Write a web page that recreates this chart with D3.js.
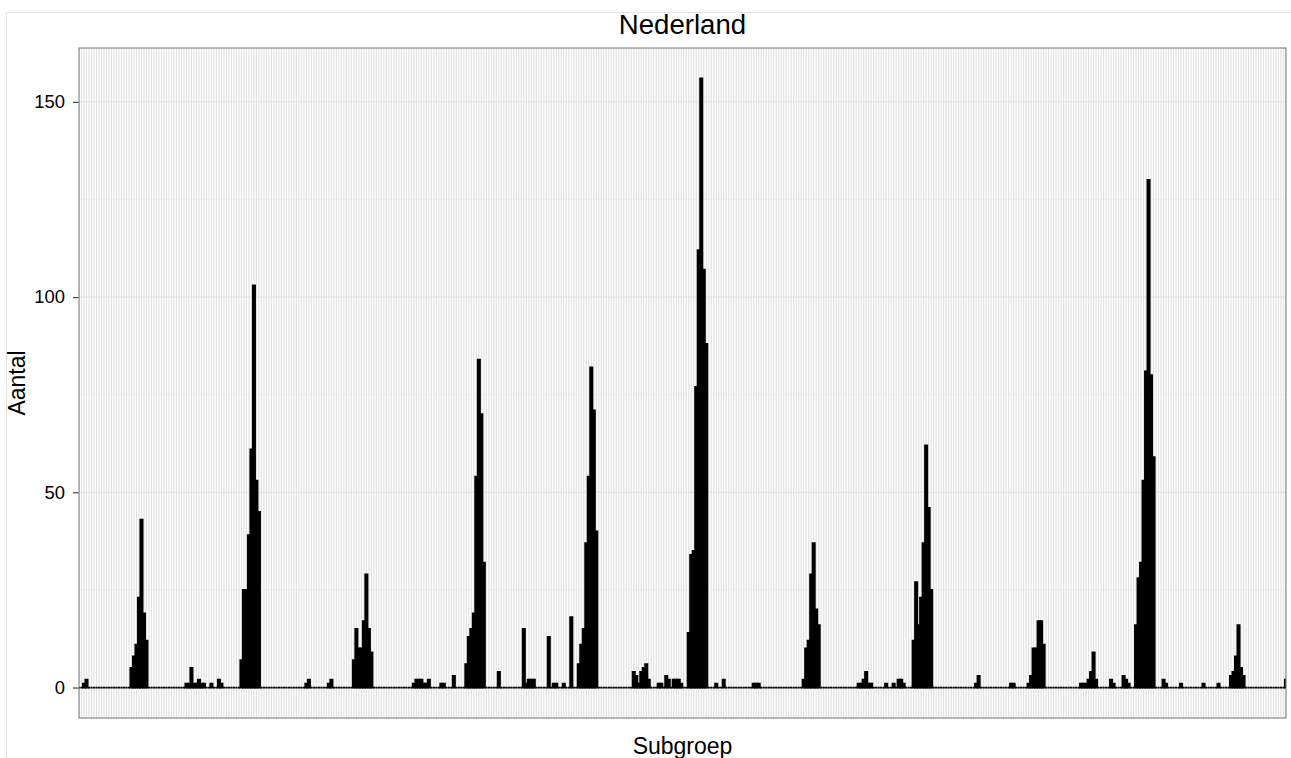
<!DOCTYPE html>
<html>
<head>
<meta charset="utf-8">
<script src="https://cdn.jsdelivr.net/npm/d3@7"></script>
<style>
  html, body { margin: 0; padding: 0; background: #ffffff; }
  svg { display: block; font-family: "Liberation Sans", Arial, Helvetica, sans-serif; }
</style>
</head>
<body>
<svg id="chart" width="1291" height="758"></svg>
<script>
// ---- data ----
const title = "Nederland";
const xLabel = "Subgroep";
const yLabel = "Aantal";
const yTicks = [0, 50, 100, 150];
const yMinorTicks = [25, 75, 125];
// counts per subgroup, in order (484 subgroups)
const aantal = [
  0,0,1,2,0,0,0,0,0,0,0,0,0,0,0,0,0,0,0,0,
  0,5,8,11,23,43,19,12,0,0,0,0,0,0,0,0,0,0,0,0,
  0,0,0,1,1,5,1,1,2,1,1,0,0,1,0,0,2,1,0,0,
  0,0,0,0,0,7,25,25,39,61,103,53,45,0,0,0,0,0,0,0,
  0,0,0,0,0,0,0,0,0,0,0,1,2,0,0,0,0,0,0,0,
  1,2,0,0,0,0,0,0,0,0,7,15,10,10,17,29,15,9,0,0,
  0,0,0,0,0,0,0,0,0,0,0,0,0,0,1,2,2,2,1,1,
  2,0,0,0,0,1,1,0,0,0,3,0,0,0,0,6,13,15,19,54,
  84,70,32,0,0,0,0,0,4,0,0,0,0,0,0,0,0,0,15,1,
  2,2,2,0,0,0,0,0,13,0,1,1,0,0,1,0,0,18,0,0,
  6,11,15,37,54,82,71,40,0,0,0,0,0,0,0,0,0,0,0,0,
  0,0,4,3,1,4,5,6,2,0,0,0,1,1,0,3,2,0,2,2,
  2,1,0,0,14,34,35,77,112,156,107,88,0,0,0,1,0,0,2,0,
  0,0,0,0,0,0,0,0,0,0,1,1,1,0,0,0,0,0,0,0,
  0,0,0,0,0,0,0,0,0,0,2,10,12,29,37,20,16,0,0,0,
  0,0,0,0,0,0,0,0,0,0,0,0,1,1,2,4,1,1,0,0,
  0,0,0,1,0,0,1,0,2,2,1,0,0,0,12,27,16,23,37,62,
  46,25,0,0,0,0,0,0,0,0,0,0,0,0,0,0,0,0,0,1,
  3,0,0,0,0,0,0,0,0,0,0,0,0,1,1,0,0,0,0,0,
  1,3,10,10,17,17,11,0,0,0,0,0,0,0,0,0,0,0,0,0,
  0,1,1,1,2,4,9,2,0,0,0,0,0,2,1,0,0,0,3,2,
  1,0,0,16,28,32,53,81,130,80,59,0,0,0,2,1,0,0,0,0,
  0,1,0,0,0,0,0,0,0,0,1,0,0,0,0,0,1,0,0,0,
  0,3,4,8,16,5,3,0,0,0,0,0,0,0,0,0,0,0,0,0,
  0,0,0,2
];
const subgroepen = aantal.map((d, i) => "S" + (i + 1));

// ---- layout ----
const panel = { left: 79, right: 1286, top: 48, bottom: 718 };

const svg = d3.select("#chart");

// outer plot border (light)
svg.append("rect")
  .attr("x", 6.5).attr("y", 12.5)
  .attr("width", 1300).attr("height", 800)
  .attr("fill", "#ffffff").attr("stroke", "#e3e3e3").attr("stroke-width", 1);

const x = d3.scalePoint()
  .domain(subgroepen)
  .range([panel.left, panel.right])
  .padding(0);
const step = x.step();
const barW = step * 0.9;

const y = d3.scaleLinear()
  .domain([-7.8, 163.8])
  .range([panel.bottom, panel.top]);

// panel background
svg.append("rect")
  .attr("x", panel.left).attr("y", panel.top)
  .attr("width", panel.right - panel.left).attr("height", panel.bottom - panel.top)
  .attr("fill", "#ffffff");

const defs = svg.append("defs");
defs.append("clipPath").attr("id", "clip")
  .append("rect")
  .attr("x", panel.left).attr("y", panel.top)
  .attr("width", panel.right - panel.left).attr("height", panel.bottom - panel.top);

const grid = svg.append("g").attr("clip-path", "url(#clip)");

// minor horizontal grid
grid.selectAll("line.ymin").data(yMinorTicks).join("line")
  .attr("class", "ymin")
  .attr("x1", panel.left).attr("x2", panel.right)
  .attr("y1", d => y(d)).attr("y2", d => y(d))
  .attr("stroke", "#f5f5f5").attr("stroke-width", 1.2);

// major horizontal grid
grid.selectAll("line.ymaj").data(yTicks).join("line")
  .attr("class", "ymaj")
  .attr("x1", panel.left).attr("x2", panel.right)
  .attr("y1", d => y(d)).attr("y2", d => y(d))
  .attr("stroke", "#e3e3e3").attr("stroke-width", 1.3);

// major vertical grid: one per subgroup
grid.selectAll("line.xmaj").data(subgroepen).join("line")
  .attr("class", "xmaj")
  .attr("x1", d => x(d)).attr("x2", d => x(d))
  .attr("y1", panel.top).attr("y2", panel.bottom)
  .attr("stroke", "#e3e3e3").attr("stroke-width", 1.25);

// bars (zero bars still draw their outline along the baseline)
const bars = svg.append("g").attr("clip-path", "url(#clip)");
bars.selectAll("path.bar").data(aantal).join("path")
  .attr("class", "bar")
  .attr("d", (d, i) => {
    const cx = x(subgroepen[i]);
    const x0 = cx - barW / 2, x1 = cx + barW / 2;
    const y0 = y(0), y1 = y(d);
    return `M${x0},${y0}V${y1}H${x1}V${y0}Z`;
  })
  .attr("fill", "#000000")
  .attr("stroke", "#000000")
  .attr("stroke-width", 1.8)
  .attr("stroke-linejoin", "miter");

// panel border
svg.append("rect")
  .attr("x", panel.left).attr("y", panel.top)
  .attr("width", panel.right - panel.left).attr("height", panel.bottom - panel.top)
  .attr("fill", "none").attr("stroke", "#7f7f7f").attr("stroke-width", 1.1);

// y axis
const yAxis = d3.axisLeft(y).tickValues(yTicks).tickSize(5.5).tickPadding(8).tickFormat(d3.format("d"));
const gy = svg.append("g").attr("transform", `translate(${panel.left - 0.5},0)`).call(yAxis);
gy.select(".domain").remove();
gy.selectAll(".tick line").attr("stroke", "#333333").attr("stroke-width", 1.1);
gy.selectAll(".tick text")
  .attr("fill", "#000000")
  .style("font-size", "18.4px")
  .style("font-family", "'Liberation Sans', Arial, sans-serif");

// titles
svg.append("text")
  .attr("x", (panel.left + panel.right) / 2).attr("y", 34)
  .attr("text-anchor", "middle")
  .style("font-size", "27.6px")
  .attr("fill", "#000000")
  .text(title);

svg.append("text")
  .attr("x", (panel.left + panel.right) / 2).attr("y", 754)
  .attr("text-anchor", "middle")
  .style("font-size", "23px")
  .attr("fill", "#000000")
  .text(xLabel);

svg.append("text")
  .attr("transform", `translate(25,${(panel.top + panel.bottom) / 2}) rotate(-90)`)
  .attr("text-anchor", "middle")
  .style("font-size", "23px")
  .attr("fill", "#000000")
  .text(yLabel);
</script>
</body>
</html>
